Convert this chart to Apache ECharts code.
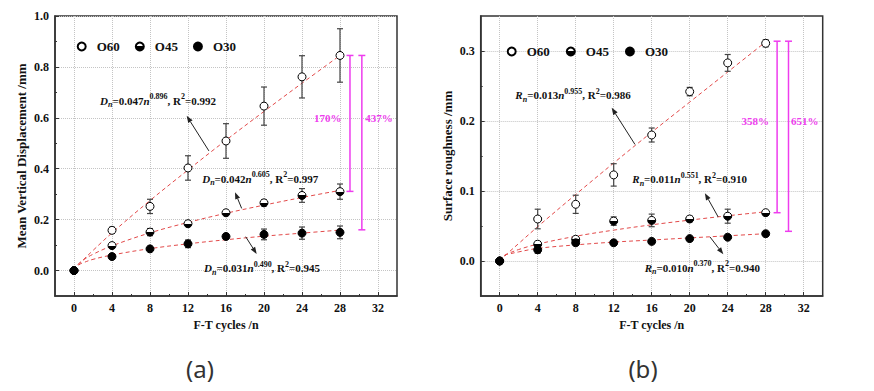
<!DOCTYPE html>
<html><head><meta charset="utf-8">
<script src="https://cdn.jsdelivr.net/npm/echarts@6/dist/echarts.min.js"></script>
<style>html,body{margin:0;padding:0;background:#fff}#c{width:874px;height:391px}</style>
</head><body><div id="c"></div>
<script>
// ---------- data ----------
const cycles = [0, 4, 8, 12, 16, 20, 24, 28];
const seriesNames = ['O60', 'O45', 'O30'];

// (a) Mean vertical displacement /mm
const a_O60 = [0, 0.158, 0.252, 0.403, 0.509, 0.646, 0.761, 0.845];
const a_O60_err = [0, 0.012, 0.028, 0.048, 0.068, 0.075, 0.083, 0.105];
const a_O45 = [0, 0.098, 0.151, 0.184, 0.227, 0.266, 0.295, 0.310];
const a_O45_err = [0, 0.008, 0.014, 0.008, 0.007, 0.012, 0.027, 0.030];
const a_O30 = [0, 0.055, 0.085, 0.105, 0.134, 0.142, 0.147, 0.150];
const a_O30_err = [0, 0.007, 0.006, 0.015, 0.007, 0.021, 0.024, 0.025];

// (b) Surface roughness /mm
const b_O60 = [0, 0.060, 0.081, 0.123, 0.180, 0.242, 0.283, 0.311];
const b_O60_err = [0, 0.014, 0.013, 0.016, 0.010, 0.006, 0.012, 0.005];
const b_O45 = [0, 0.024, 0.031, 0.057, 0.058, 0.060, 0.064, 0.069];
const b_O45_err = [0, 0.004, 0.004, 0.006, 0.009, 0.004, 0.010, 0.003];
const b_O30 = [0, 0.016, 0.026, 0.026, 0.028, 0.032, 0.034, 0.039];
const b_O30_err = [0, 0.005, 0.003, 0.002, 0.002, 0.002, 0.002, 0.002];

// fitted curves
const fitN = [0, 0.5, 1, 2, 4, 8, 12, 16, 20, 24, 28];
const a_fit60 = [0, 0.023, 0.043, 0.079, 0.148, 0.275, 0.395, 0.512, 0.625, 0.736, 0.845];
const a_fit45 = [0, 0.028, 0.042, 0.064, 0.097, 0.148, 0.189, 0.225, 0.257, 0.287, 0.315];
const a_fit30 = [0, 0.022, 0.031, 0.044, 0.061, 0.086, 0.105, 0.121, 0.135, 0.147, 0.159];
const b_fit60 = [0, 0.0067, 0.013, 0.025, 0.049, 0.095, 0.140, 0.184, 0.227, 0.270, 0.313];
const b_fit45 = [0, 0.0077, 0.0112, 0.0164, 0.0241, 0.0353, 0.0441, 0.0517, 0.0584, 0.0646, 0.0703];
const b_fit30 = [0, 0.008, 0.010, 0.013, 0.018, 0.023, 0.027, 0.030, 0.033, 0.036, 0.039];

// axes ticks
const xMajor = [0, 4, 8, 12, 16, 20, 24, 28, 32];
const xMinor = [2, 6, 10, 14, 18, 22, 26, 30];
const yMajorA = [0, 0.2, 0.4, 0.6, 0.8, 1.0];
const yMinorA = [0.1, 0.3, 0.5, 0.7, 0.9];
const yMajorB = [0, 0.1, 0.2, 0.3];
const yMinorB = [0.05, 0.15, 0.25];

// fit equations
const eqSymA = ['D', 'D', 'D'];
const eqCoefA = ['0.047', '0.042', '0.031'];
const eqExpA = ['0.896', '0.605', '0.490'];
const eqR2A = ['0.992', '0.997', '0.945'];
const eqSymB = ['R', 'R', 'R'];
const eqCoefB = ['0.013', '0.011', '0.010'];
const eqExpB = ['0.955', '0.551', '0.370'];
const eqR2B = ['0.986', '0.910', '0.940'];
// [text n, text value, arrow start n, start value, arrow tip n, tip value]
const eqPosA = [[8.84, 0.667, 14.2, 0.47, 11.86, 0.608], [19.6, 0.36, 17.65, 0.244, 16.95, 0.308], [19.8, 0.009, 18.07, 0.133, 19.23, 0.065]];
const eqPosB = [[7.72, 0.237, 14.24, 0.1665, 11.79, 0.2188], [20.0, 0.1168, 23.0, 0.0629, 21.6, 0.0968], [21.33, -0.0094, 22.14, 0.0343, 23.54, 0.0096]];

// percentage brackets [n, top, bottom] and labels
const brA = [[29.05, 0.845, 0.311], [30.3, 0.845, 0.160]];
const brLabA = [[26.7, 0.6], [32.1, 0.6]];
const brTxtA = ['170%', '437%'];
const brB = [[29.2, 0.314, 0.069], [30.4, 0.314, 0.0424]];
const brLabB = [[26.9, 0.2], [32.1, 0.2]];
const brTxtB = ['358%', '651%'];

// ---------- chart ----------
const SERIF = '"Liberation Serif","Times New Roman",serif';
const TXT = {fontFamily: SERIF, fontWeight: 'bold', fontSize: 12, color: '#111'};
const NAMETXT = {fontFamily: SERIF, fontWeight: 'bold', fontSize: 13, color: '#111'};
const MAG = '#ee3cee';
const INK = '#111';
const halfFill = {type: 'linear', x: 0, y: 0, x2: 0, y2: 1, colorStops: [
  {offset: 0, color: '#fff'}, {offset: 0.5, color: '#fff'}, {offset: 0.5, color: '#000'}, {offset: 1, color: '#000'}]};
const fills = ['#fff', halfFill, '#000'];

const panels = [
  {left: 55, ymin: -0.1, ymax: 1.0, yMajor: yMajorA, yMinor: yMinorA, yName: 'Mean Vertical Displacement /mm',
   vals: [a_O60, a_O45, a_O30], errs: [a_O60_err, a_O45_err, a_O30_err], fits: [a_fit60, a_fit45, a_fit30],
   eq: [eqSymA, eqCoefA, eqExpA, eqR2A], eqPos: eqPosA, br: brA, brLab: brLabA, brTxt: brTxtA,
   legLeft: 71.7, legTop: 35, legGap: 15},
  {left: 480.7, ymin: -0.05, ymax: 0.35, yMajor: yMajorB, yMinor: yMinorB, yName: 'Surface roughness /mm',
   vals: [b_O60, b_O45, b_O30], errs: [b_O60_err, b_O45_err, b_O30_err], fits: [b_fit60, b_fit45, b_fit30],
   eq: [eqSymB, eqCoefB, eqExpB, eqR2B], eqPos: eqPosB, br: brB, brLab: brLabB, brTxt: brTxtB,
   legLeft: 501.7, legTop: 40, legGap: 16}
];

const grids = [], xAxes = [], yAxes = [], series = [], legends = [];
function rs(extra) {
  return Object.assign({fontFamily: SERIF, fontWeight: 'bold', fontSize: 11, fill: INK, color: INK, lineHeight: 16}, extra);
}
const richEq = {
  b: rs({}),
  i: rs({fontStyle: 'italic'}),
  sub: rs({fontStyle: 'italic', fontSize: 8, verticalAlign: 'bottom'}),
  sup: rs({fontSize: 8, verticalAlign: 'top'})
};

panels.forEach((p, gi) => {
  grids.push({left: p.left, top: 16, width: 342, height: 280, show: true, borderColor: '#333', borderWidth: 1.5, backgroundColor: 'transparent'});
  xAxes[gi] = {type: 'value', gridIndex: gi, min: -2, max: 34, name: 'F-T cycles /n', nameLocation: 'middle', nameGap: 21,
    nameTextStyle: TXT,
    axisLine: {show: true, onZero: false, lineStyle: {color: '#333', width: 1.5}},
    axisTick: {show: true, inside: true, length: 4, customValues: xMajor, lineStyle: {color: '#333', width: 1}},
    axisLabel: Object.assign({customValues: xMajor, margin: 6}, TXT),
    splitLine: {show: true, lineStyle: {color: '#c4c4c4', type: 'dotted', width: 1}}};
  xAxes[gi + 2] = {type: 'value', gridIndex: gi, min: -2, max: 34, position: 'bottom',
    axisLine: {show: false, onZero: false},
    axisTick: {show: true, inside: true, length: 2, customValues: xMinor, lineStyle: {color: '#333', width: 1}},
    axisLabel: {show: false}, splitLine: {show: false}};
  yAxes[gi] = {type: 'value', gridIndex: gi, min: p.ymin, max: p.ymax, name: p.yName, nameLocation: 'middle', nameGap: 27,
    nameTextStyle: NAMETXT,
    axisLine: {show: true, onZero: false, lineStyle: {color: '#333', width: 1.5}},
    axisTick: {show: true, inside: true, length: 4, customValues: p.yMajor, lineStyle: {color: '#333', width: 1}},
    axisLabel: Object.assign({customValues: p.yMajor, margin: 6, formatter: v => Number(v).toFixed(1)}, TXT),
    splitLine: {show: true, lineStyle: {color: '#c4c4c4', type: 'dotted', width: 1}}};
  yAxes[gi + 2] = {type: 'value', gridIndex: gi, min: p.ymin, max: p.ymax, position: 'left',
    axisLine: {show: false, onZero: false},
    axisTick: {show: true, inside: true, length: 2, customValues: p.yMinor, lineStyle: {color: '#333', width: 1}},
    axisLabel: {show: false}, splitLine: {show: false}};

  legends.push({data: seriesNames, left: p.legLeft, top: p.legTop, itemWidth: 20, itemHeight: 8, itemGap: p.legGap,
    textStyle: {fontFamily: SERIF, fontWeight: 'bold', fontSize: 13, color: '#111'}, selectedMode: false});

  p.fits.forEach((f, k) => {
    series.push({type: 'line', name: 'fit' + k + '_' + gi, xAxisIndex: gi, yAxisIndex: gi, silent: true,
      data: fitN.map((n, i) => [n, f[i]]), showSymbol: false, smooth: 0.4, z: 2,
      lineStyle: {color: '#e24a4a', width: 1, type: [4, 3]}});
  });
  p.errs.forEach((e, k) => {
    series.push({type: 'custom', name: 'err' + k + '_' + gi, xAxisIndex: gi, yAxisIndex: gi, silent: true, z: 3,
      encode: {x: 0, y: 1},
      data: cycles.map((n, i) => [n, p.vals[k][i], e[i]]),
      renderItem: (params, api) => {
        const n = api.value(0), v = api.value(1), d = api.value(2);
        if (!d) return null;
        const t = api.coord([n, v + d]), b = api.coord([n, v - d]);
        const st = {stroke: '#444', lineWidth: 1.2};
        return {type: 'group', children: [
          {type: 'line', shape: {x1: t[0], y1: t[1], x2: b[0], y2: b[1]}, style: st},
          {type: 'line', shape: {x1: t[0] - 3, y1: t[1], x2: t[0] + 3, y2: t[1]}, style: st},
          {type: 'line', shape: {x1: b[0] - 3, y1: b[1], x2: b[0] + 3, y2: b[1]}, style: st}]};
      }});
  });
  p.vals.forEach((vals, k) => {
    series.push({type: 'scatter', name: seriesNames[k], xAxisIndex: gi, yAxisIndex: gi, z: 5,
      data: cycles.map((n, i) => [n, vals[i]]), symbol: 'circle', symbolSize: 8,
      itemStyle: {color: fills[k], borderColor: '#000', borderWidth: 1, opacity: 1}});
  });
  series.push({type: 'custom', name: 'eq_' + gi, xAxisIndex: gi, yAxisIndex: gi, silent: true, z: 6,
    encode: {x: 0, y: 1},
    itemStyle: {color: INK},
    data: p.eqPos,
    renderItem: (params, api) => {
      const i = params.dataIndex;
      const tp = api.coord([api.value(0), api.value(1)]);
      const a0 = api.coord([api.value(2), api.value(3)]);
      const a1 = api.coord([api.value(4), api.value(5)]);
      const dx = a1[0] - a0[0], dy = a1[1] - a0[1], L = Math.hypot(dx, dy);
      const ux = dx / L, uy = dy / L, hl = 7, hw = 2.6;
      const bx = a1[0] - ux * hl, by = a1[1] - uy * hl;
      const txt = '{i|' + p.eq[0][i] + '}{sub|n}{b|=' + p.eq[1][i] + '}{i|n}{sup|' + p.eq[2][i] + '}{b|, R}{sup|2}{b|=' + p.eq[3][i] + '}';
      return {type: 'group', children: [
        {type: 'line', shape: {x1: a0[0], y1: a0[1], x2: bx, y2: by}, style: {stroke: '#222', lineWidth: 1}},
        {type: 'polygon', shape: {points: [[a1[0], a1[1]], [bx - uy * hw, by + ux * hw], [bx + uy * hw, by - ux * hw]]}, style: {fill: '#222'}},
        {type: 'text', x: tp[0], y: tp[1], style: {text: txt, rich: richEq, fill: INK, align: 'center', verticalAlign: 'middle'}}]};
    }});
  series.push({type: 'custom', name: 'br_' + gi, xAxisIndex: gi, yAxisIndex: gi, silent: true, z: 4,
    encode: {x: 0, y: 1},
    data: p.br,
    renderItem: (params, api) => {
      const t = api.coord([api.value(0), api.value(1)]), b = api.coord([api.value(0), api.value(2)]);
      const st = {stroke: MAG, lineWidth: 1.5};
      return {type: 'group', children: [
        {type: 'line', shape: {x1: t[0], y1: t[1], x2: b[0], y2: b[1]}, style: st},
        {type: 'line', shape: {x1: t[0] - 3.5, y1: t[1], x2: t[0] + 3.5, y2: t[1]}, style: st},
        {type: 'line', shape: {x1: b[0] - 3.5, y1: b[1], x2: b[0] + 3.5, y2: b[1]}, style: st}]};
    }});
  series.push({type: 'custom', name: 'brl_' + gi, xAxisIndex: gi, yAxisIndex: gi, silent: true, z: 4,
    encode: {x: 0, y: 1},
    data: p.brLab,
    renderItem: (params, api) => {
      const c = api.coord([api.value(0), api.value(1)]);
      return {type: 'text', x: c[0], y: c[1], style: {text: p.brTxt[params.dataIndex], fill: MAG,
        font: 'bold 11px ' + SERIF, align: 'center', verticalAlign: 'middle'}};
    }});
});

const chart = echarts.init(document.getElementById('c'), null, {renderer: 'svg'});
chart.setOption({
  animation: false,
  backgroundColor: '#fff',
  grid: grids, xAxis: xAxes, yAxis: yAxes, legend: legends, series: series,
  graphic: [
    {type: 'text', x: 200, y: 368, style: {text: '(a)', fill: '#333', font: '24px "Noto Sans"', align: 'center', verticalAlign: 'middle', textAlign: 'center', textVerticalAlign: 'middle'}},
    {type: 'text', x: 643, y: 368, style: {text: '(b)', fill: '#333', font: '24px "Noto Sans"', align: 'center', verticalAlign: 'middle', textAlign: 'center', textVerticalAlign: 'middle'}}
  ]
});
</script></body></html>
